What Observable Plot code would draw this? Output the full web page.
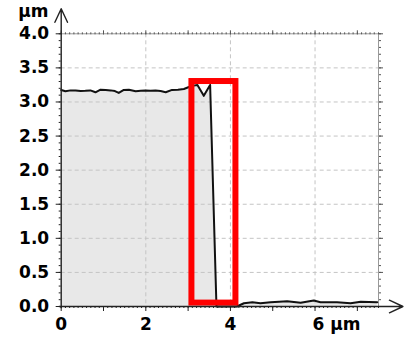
<!DOCTYPE html>
<html><head><meta charset="utf-8">
<script src="https://cdn.jsdelivr.net/npm/d3@7"></script>
<script src="https://cdn.jsdelivr.net/npm/@observablehq/plot@0.6"></script>
<style>html,body{margin:0;padding:0;background:#fff;}</style>
</head><body><div id="chart"></div>
<script>
// Profile (x in µm, height in µm)
const profileX = [0, 0.10, 0.22, 0.34, 0.46, 0.57, 0.69, 0.81, 0.93, 1.05, 1.17, 1.27, 1.36, 1.48, 1.60, 1.76, 1.88, 1.99, 2.11, 2.23, 2.35, 2.47, 2.62, 2.76, 2.90, 3.02, 3.13, 3.22, 3.37, 3.52, 3.67, 4.15, 4.32, 4.52, 4.71, 4.95, 5.15, 5.34, 5.66, 5.97, 6.13, 6.52, 6.84, 7.08, 7.47];
const profileY = [3.175, 3.157, 3.17, 3.17, 3.16, 3.163, 3.17, 3.142, 3.18, 3.175, 3.17, 3.16, 3.133, 3.177, 3.18, 3.157, 3.165, 3.17, 3.165, 3.167, 3.16, 3.142, 3.177, 3.18, 3.19, 3.22, 3.24, 3.25, 3.09, 3.25, 0, 0, 0.048, 0.063, 0.048, 0.063, 0.07, 0.078, 0.054, 0.088, 0.063, 0.063, 0.048, 0.07, 0.063];
const xDomain = [0, 7.5];
const yDomain = [0, 4];
const xTickValues = [0, 2, 4, 6];
const xTickLabels = ["0", "2", "4", "6 µm"];
const yTickValues = [0, 0.5, 1, 1.5, 2, 2.5, 3, 3.5, 4];
const yTickLabels = ["0.0", "0.5", "1.0", "1.5", "2.0", "2.5", "3.0", "3.5", "4.0"];
const yUnit = ["µm"];
const gridXValues = [2, 4, 6];
const gridYValues = [0.5, 1, 1.5, 2, 2.5, 3, 3.5];
const highlightX = [3.09, 4.13];
const highlightY = [0.05, 3.30];

const profile = profileX.map((x, i) => ({x, y: profileY[i]}));
const highlight = [{x1: highlightX[0], x2: highlightX[1], y1: highlightY[0], y2: highlightY[1]}];
const xMajor = d3.range(0, 8, 1).filter(d => d <= xDomain[1]);
const xMinor = d3.range(0, 76, 1).map(d => d / 10);
const yMajor = d3.range(0, 9, 1).map(d => d / 2);
const yMinor = d3.range(0, 41, 1).map(d => d / 10);
const xy = xTickValues.map((v, i) => ({v, t: xTickLabels[i]}));
const yy = yTickValues.map((v, i) => ({v, t: yTickLabels[i]}));
const arrows = [
  {x1: 0, y1: -0.02, x2: 0, y2: yDomain[1] * 1.092},
  {x1: -0.05, y1: 0, x2: xDomain[1] * 1.077, y2: 0}
];
const noLab = () => "";
const axisColor = "#222";
const font = {fontFamily: "DejaVu Sans", fontSize: 17, fontWeight: "bold", fill: "#000"};

const chart = Plot.plot({
  width: 405, height: 341,
  marginLeft: 60.7, marginRight: 27, marginTop: 33.3, marginBottom: 35,
  x: {domain: xDomain, axis: null, label: null},
  y: {domain: yDomain, axis: null, label: null},
  style: {background: "white", overflow: "visible"},
  marks: [
    Plot.areaY(profile, {x: "x", y: "y", fill: "#e8e8e8"}),
    Plot.ruleY(gridYValues, {stroke: "#c4c4c4", strokeDasharray: "4,3"}),
    Plot.ruleX(gridXValues, {stroke: "#c4c4c4", strokeDasharray: "4,3"}),
    Plot.ruleY([yDomain[1]], {stroke: "#999"}),
    Plot.ruleX([xDomain[1]], {stroke: "#999"}),
    Plot.axisX({anchor: "top", ticks: xMinor, tickSize: 2, tickFormat: noLab, label: null, stroke: "#555"}),
    Plot.axisX({anchor: "top", ticks: xMajor, tickSize: 4, tickFormat: noLab, label: null, stroke: "#555"}),
    Plot.axisY({anchor: "right", ticks: yMinor, tickSize: 2, tickFormat: noLab, label: null, stroke: "#555"}),
    Plot.axisY({anchor: "right", ticks: yMajor, tickSize: 4, tickFormat: noLab, label: null, stroke: "#555"}),
    Plot.axisX({anchor: "bottom", ticks: xMinor, tickSize: 2, tickFormat: noLab, label: null, stroke: axisColor}),
    Plot.axisX({anchor: "bottom", ticks: xMajor, tickSize: 5, tickFormat: noLab, label: null, stroke: axisColor}),
    Plot.axisY({anchor: "left", ticks: yMinor, tickSize: 2, tickFormat: noLab, label: null, stroke: axisColor}),
    Plot.axisY({anchor: "left", ticks: yMajor, tickSize: 5, tickFormat: noLab, label: null, stroke: axisColor}),
    Plot.line(profile, {x: "x", y: "y", stroke: "#111", strokeWidth: 2}),
    Plot.rect(highlight, {x1: "x1", x2: "x2", y1: "y1", y2: "y2", fill: "none", stroke: "#ff0000", strokeWidth: 6}),
    Plot.arrow(arrows, {x1: "x1", y1: "y1", x2: "x2", y2: "y2", stroke: axisColor, strokeWidth: 1.4, headLength: 16, headAngle: 50}),
    Plot.text(yy, {x: xDomain[0], y: "v", text: "t", dx: -12, textAnchor: "end", ...font}),
    Plot.text(xy.filter(d => d.v !== 6), {x: "v", y: yDomain[0], text: "t", dy: 18, ...font}),
    Plot.text(xy.filter(d => d.v === 6), {x: "v", y: yDomain[0], text: "t", dy: 18, dx: -2.5, textAnchor: "start", ...font}),
    Plot.text(yUnit, {x: xDomain[0], y: yDomain[1], text: d => d, dx: -12.7, dy: -17, textAnchor: "end", lineAnchor: "bottom", ...font})
  ]
});
document.getElementById("chart").append(chart);
</script>
</body></html>
